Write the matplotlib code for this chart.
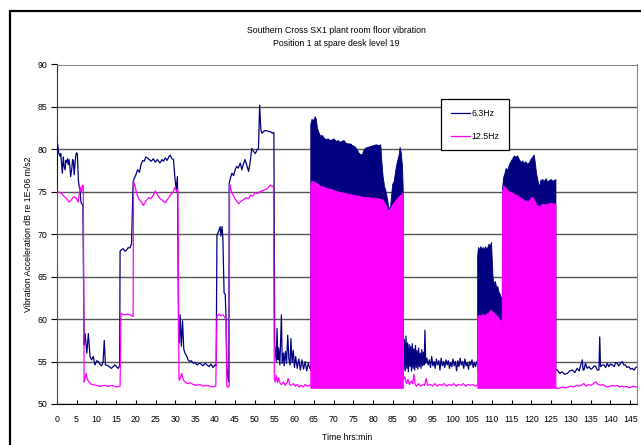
import numpy as np
import matplotlib as mpl; mpl.use("Agg")
import matplotlib.pyplot as plt
from matplotlib.lines import Line2D

plt.rcParams["font.family"] = ["Liberation Sans Narrow", "Liberation Sans", "DejaVu Sans"]
plt.rcParams["font.size"] = 6.3

NAVY, MAG = "#000080", "#FF00FF"

# ---- 6.3Hz, quiet stretches (time in hrs, level in dB) ----
t63_a = [0.0, 0.2, 0.5, 0.8, 1.0, 1.2, 1.4, 1.65, 1.85, 2.1, 2.3, 2.5, 2.7, 2.9, 3.1, 3.3, 3.5, 3.76,
         4.0, 4.2, 4.4, 4.6, 4.8, 5.0, 5.2, 5.45, 5.7, 5.9, 6.1, 6.3, 6.6, 6.9, 7.14, 7.6, 7.98, 8.4,
         8.8, 9.2, 9.65, 10.1, 10.5, 10.9, 11.3, 11.7, 12.0, 12.3, 13.0, 13.8, 14.7, 15.5, 15.9,
         16.0, 16.4, 16.8, 17.2, 17.6, 18.0, 18.5, 18.9, 19.3, 19.6, 20.0, 20.4, 20.9, 21.3, 21.7,
         22.1, 22.5, 22.9, 23.4, 23.9, 24.4, 24.9, 25.4, 26.1, 26.6, 27.0, 27.4, 27.9, 28.4, 28.7,
         29.1, 29.5, 29.9, 30.2, 30.5, 30.8, 31.0, 31.2, 31.5, 31.8, 32.1, 32.4, 32.8, 33.2, 33.6,
         34.0, 34.5, 35.0, 35.5, 36.0, 36.5, 37.0, 37.5, 38.0, 38.5, 39.0, 39.5, 40.0, 40.3, 40.5,
         40.9, 41.3, 41.5, 41.8, 42.0, 42.3, 42.6, 42.8, 43.0, 43.3, 43.5, 43.6, 43.9, 44.3, 44.7,
         45.1, 45.5, 45.9, 46.4, 46.8, 47.2, 47.6, 48.0, 48.5, 48.9, 49.3, 49.7, 50.2, 50.6, 51.0,
         51.3, 51.6, 51.9, 52.5, 53.1, 53.5, 54.0, 54.5, 54.9, 55.1, 55.5, 55.7, 55.9, 56.1, 56.4,
         56.8, 57.0, 57.3, 57.5, 57.8, 58.1, 58.4, 58.7, 59.0, 59.2, 59.5, 59.8, 60.1, 60.4, 60.8,
         61.2, 61.6, 62.0, 62.4, 62.8, 63.2, 63.6, 64.0]
v63_a = [75.0, 80.6, 79.6, 79.2, 79.5, 78.3, 77.2, 79.1, 78.0, 77.6, 78.7, 78.5, 78.9, 78.2, 78.8, 78.0, 76.8, 77.6,
         78.8, 78.6, 77.0, 78.3, 79.3, 79.6, 79.4, 76.4, 75.5, 75.0, 73.8, 73.6, 73.4, 57.0, 58.3, 56.0, 58.3, 55.6,
         55.2, 55.6, 54.6, 55.1, 55.0, 54.7, 54.5, 54.9, 57.5, 54.6, 54.5, 54.2, 54.6, 54.2, 54.5,
         68.0, 68.2, 68.3, 68.0, 68.1, 68.4, 68.4, 68.9, 76.2, 76.6, 77.0, 77.6, 77.3, 78.2, 78.7,
         78.6, 79.1, 79.0, 78.8, 78.6, 78.9, 78.5, 78.8, 78.4, 78.8, 78.6, 79.0, 78.7, 79.2, 79.3,
         78.9, 78.8, 76.5, 75.3, 76.8, 58.5, 57.2, 60.5, 56.8, 59.8, 56.5, 56.0, 55.7, 55.2, 55.0,
         55.1, 54.8, 54.9, 54.6, 54.8, 54.7, 54.5, 54.8, 54.6, 54.4, 54.7, 54.3, 54.6, 54.5, 69.9,
         70.3, 70.9, 69.8, 70.9, 69.5, 63.1, 62.9, 60.0, 54.5, 53.0, 52.6, 76.0, 76.6, 77.2, 76.9,
         77.6, 78.0, 77.8, 78.4, 77.6, 78.3, 78.8, 78.2, 77.4, 78.5, 80.1, 79.8, 79.5, 79.9, 80.1,
         85.2, 82.3, 81.9, 82.2, 82.2, 82.1, 82.1, 81.9, 82.0, 57.0, 55.0, 58.9, 55.2, 56.6, 54.6,
         60.5, 54.8, 56.0, 54.5, 56.2, 54.8, 58.1, 55.2, 54.6, 57.7, 54.9, 56.3, 54.3, 55.6, 54.2,
         55.3, 54.0, 55.2, 54.1, 55.0, 53.9, 54.8, 54.2]

t63_b = [87.5, 87.7, 87.9, 88.1, 88.3, 88.5, 88.7, 88.9, 89.1, 89.3, 89.5, 89.7, 89.9, 90.1, 90.3,
         90.5, 90.7, 90.9, 91.1, 91.3, 91.5, 91.7, 91.9, 92.1, 92.3, 92.5, 92.7, 92.9, 93.1, 93.3,
         93.6, 93.9, 94.2, 94.5, 94.8, 95.1, 95.4, 95.7, 96.0, 96.3, 96.6, 96.9, 97.2, 97.5, 97.8,
         98.1, 98.4, 98.7, 99.0, 99.3, 99.6, 99.9, 100.2, 100.5, 100.8, 101.1, 101.4, 101.7, 102.0,
         102.3, 102.6, 102.9, 103.2, 103.5, 103.8, 104.1, 104.4, 104.7, 105.0, 105.3, 105.6, 105.9, 106.2]
v63_b = [58.2, 54.0, 57.6, 53.9, 58.0, 54.2, 57.2, 53.8, 57.0, 54.4, 56.8, 53.9, 57.1, 54.2, 56.5,
         54.0, 56.9, 54.3, 56.3, 54.1, 56.6, 54.4, 56.0, 54.2, 56.4, 54.5, 56.1, 54.6, 58.7, 54.8,
         55.4, 54.6, 55.2, 54.3, 55.6, 54.5, 55.0, 54.2, 55.3, 54.6, 55.1, 54.0, 55.4, 54.5, 55.0,
         54.3, 55.2, 54.6, 55.1, 54.2, 54.9, 54.4, 55.3, 54.5, 55.0, 53.9, 55.1, 54.4, 55.4,
         54.6, 55.0, 54.2, 55.3, 54.5, 54.9, 54.1, 55.0, 54.6, 55.2, 54.3, 54.9, 54.4, 55.0]

t63_c = [126.1, 126.6, 127.2, 127.8, 128.4, 129.1, 129.7, 130.4, 131.0, 131.6, 132.1, 132.5, 132.9,
         133.1, 133.3, 133.7, 134.1, 134.6, 135.0, 135.4, 135.9, 136.3, 136.7, 137.1, 137.3, 137.5,
         138.0, 138.4, 138.8, 139.2, 139.6, 140.0, 140.5, 141.0, 141.3, 141.7, 142.1, 142.6, 143.0,
         143.4, 143.8, 144.2, 144.7, 145.1, 145.5, 146.0, 146.4, 146.8]
v63_c = [54.0, 54.0, 53.6, 53.8, 53.5, 53.6, 53.9, 54.0, 53.7, 54.2, 53.9, 54.6, 55.2,
         54.0, 54.0, 54.8, 54.2, 54.4, 54.1, 54.2, 54.5, 54.4, 54.0, 54.0, 57.9, 54.4,
         54.6, 54.6, 54.3, 54.8, 54.4, 54.7, 54.6, 54.4, 54.9, 54.8, 54.5, 54.8, 55.0,
         54.6, 54.6, 54.3, 54.4, 54.1, 54.2, 54.0, 54.3, 54.4]

# ---- 6.3Hz, rapidly cycling stretches: upper envelope ----
t63_d1 = [64.1, 64.4, 64.8, 65.2, 65.5, 65.8, 66.2, 66.6, 67.0, 67.5, 68.0, 68.5, 69.0, 69.6, 70.0,
          70.5, 71.0, 71.5, 72.0, 72.5, 73.0, 73.5, 74.2, 74.7, 75.2, 75.9, 76.3, 76.8, 77.2, 77.6,
          78.0, 78.6, 79.3, 80.0, 80.7, 81.3, 81.8, 82.1, 82.4, 82.8, 83.1, 83.5, 83.9, 84.3, 84.8,
          85.2, 85.6, 86.0, 86.4, 86.7, 87.0, 87.3, 87.5]
v63_d1 = [83.0, 83.6, 83.4, 83.9, 83.6, 82.5, 82.0, 81.6, 81.7, 81.4, 81.2, 81.3, 81.1, 81.2, 81.3,
          81.0, 81.1, 80.9, 81.0, 81.1, 80.8, 80.7, 80.7, 80.5, 80.4, 80.0, 79.6, 79.4, 79.5, 80.0,
          80.2, 80.3, 80.4, 80.5, 80.6, 80.5, 80.6, 78.5, 76.8, 75.6, 75.2, 74.2, 73.0, 73.4, 75.9,
          76.3, 77.6, 78.6, 79.3, 80.3, 79.6, 78.0, 75.0]
t63_d2 = [106.3, 106.5, 106.8, 107.1, 107.4, 107.7, 108.0, 108.3, 108.6, 108.9, 109.2, 109.5, 109.8,
          110.0, 110.2, 110.5, 110.8, 111.1, 111.4, 111.7, 112.0, 112.3, 112.55, 112.6, 112.9, 113.2,
          113.5, 113.9, 114.3, 114.7, 115.1, 115.6, 116.0, 116.4, 116.8, 117.3, 117.7, 118.1, 118.5,
          118.9, 119.4, 119.8, 120.2, 120.6, 120.9, 121.2, 121.5, 121.9, 122.3, 122.8, 123.2, 123.6,
          124.0, 124.5, 124.9, 125.3, 125.7, 126.1]
v63_d2 = [67.5, 68.5, 68.2, 68.6, 68.3, 68.5, 68.2, 68.6, 68.3, 68.5, 68.9, 68.6, 69.1,
          67.0, 64.9, 64.2, 64.5, 63.8, 63.9, 63.2, 63.0, 62.6, 62.5, 75.5, 76.8, 77.2,
          77.8, 77.6, 78.2, 78.6, 78.9, 79.3, 79.1, 79.3, 78.9, 78.5, 78.7, 78.4, 78.6,
          78.3, 78.5, 78.9, 79.1, 79.4, 78.4, 77.2, 76.5, 75.6, 76.4, 76.5, 76.3, 76.6,
          76.2, 76.4, 76.5, 76.3, 76.4, 76.5]
floor63 = 54.0

# ---- 12.5Hz, quiet stretches ----
t125_a = [0.0, 0.1, 0.4, 0.8, 1.2, 1.6, 2.0, 2.5, 3.1, 3.6, 4.2, 4.8, 5.2, 5.45, 5.87, 6.2, 6.5, 6.7,
          6.9, 7.1, 7.4, 7.7, 8.0, 8.5, 9.0, 10.0, 11.0, 12.0, 13.0, 14.0, 15.0, 16.0, 16.25, 17.0,
          18.0, 19.0, 19.3, 19.4, 19.8, 20.2, 20.7, 21.2, 21.9, 22.5, 23.2, 23.8, 24.4, 24.9, 25.5,
          26.1, 26.7, 27.4, 28.0, 28.7, 29.3, 29.9, 30.3, 30.6, 30.9, 31.2, 31.6, 32.0, 32.5, 33.1,
          33.7, 34.5, 35.4, 36.2, 37.1, 38.0, 38.8, 39.5, 40.2, 40.5, 41.0, 41.5, 42.0, 42.5, 42.8,
          43.0, 43.3, 43.6, 43.7, 44.0, 44.3, 44.8, 45.3, 46.0, 46.6, 47.3, 47.9, 48.5, 49.0, 49.6,
          50.2, 50.7, 51.3, 51.8, 52.4, 53.0, 53.5, 54.0, 54.5, 54.8, 55.0, 55.2, 55.5, 55.8, 56.1,
          56.5, 56.8, 57.3, 57.8, 58.2, 58.5, 58.9, 59.3, 59.8, 60.3, 60.8, 61.3, 61.8, 62.3, 62.8,
          63.3, 63.8, 64.1]
v125_a = [50.2, 75.0, 75.0, 74.9, 74.8, 74.6, 74.4, 74.2, 73.8, 74.0, 74.4, 74.3, 74.0, 73.8, 75.6, 74.9, 75.8, 75.7,
          52.6, 53.0, 53.6, 52.9, 52.7, 52.4, 52.3, 52.2, 52.1, 52.2, 52.1, 52.2, 52.0, 52.1, 60.7, 60.5,
          60.6, 60.4, 60.3, 76.3, 75.6, 74.8, 74.2, 73.9, 73.4, 73.9, 74.3, 74.2, 74.6, 75.1, 74.6,
          74.2, 74.0, 73.7, 74.1, 74.6, 74.9, 75.5, 75.0, 75.3, 52.8, 53.0, 53.6, 52.8, 52.6, 52.4,
          52.5, 52.3, 52.2, 52.3, 52.1, 52.2, 52.1, 52.0, 52.1, 60.3, 60.6, 60.4, 60.5, 60.2, 59.9,
          52.0, 52.0, 52.1, 75.9, 75.3, 74.9, 74.4, 74.0, 73.6, 73.9, 74.1, 74.3, 74.2, 74.6, 74.5,
          74.9, 74.8, 75.0, 75.1, 75.2, 75.3, 75.5, 75.8, 75.6, 75.7, 53.0, 52.6, 53.4, 52.5, 53.1,
          52.4, 52.3, 52.6, 52.2, 52.5, 53.0, 52.3, 52.2, 52.4, 52.1, 52.3, 52.0, 52.2, 52.0, 52.3,
          52.1, 52.2, 52.2]

t125_b = [87.5, 87.6, 88.0, 88.4, 88.8, 89.2, 89.6, 90.0, 90.3, 90.6, 91.0, 91.5, 92.0, 92.5, 93.0,
          93.4, 93.8, 94.5, 95.0, 95.6, 96.2, 96.8, 97.4, 98.0, 98.6, 99.2, 99.8, 100.4, 101.0,
          101.6, 102.2, 102.8, 103.4, 104.0, 104.6, 105.2, 105.8, 106.3]
v125_b = [74.8, 52.8, 53.2, 52.4, 52.9, 52.3, 52.7, 52.4, 53.5, 52.3, 52.1, 52.4, 52.1, 52.3, 52.2,
          53.0, 52.2, 52.3, 52.1, 52.4, 52.1, 52.3, 52.2, 52.4, 52.1, 52.3, 52.2, 52.4, 52.1,
          52.3, 52.2, 52.4, 52.1, 52.3, 52.2, 52.3, 52.1, 52.2]

t125_c = [126.1, 126.6, 127.3, 128.0, 128.7, 129.4, 130.0, 130.7, 131.4, 132.0, 132.6, 133.3, 133.9,
          134.5, 135.1, 135.7, 136.3, 136.9, 137.5, 138.1, 138.7, 139.3, 139.9, 140.5, 141.1, 141.7,
          142.3, 142.9, 143.5, 144.1, 144.7, 145.3, 145.9, 146.5, 146.8]
v125_c = [52.0, 51.8, 51.9, 52.0, 51.9, 52.0, 52.1, 52.0, 52.2, 52.1, 52.2, 52.4, 52.1,
          52.3, 52.2, 52.4, 52.6, 52.3, 52.2, 52.3, 52.1, 52.0, 52.1, 52.2, 52.1, 52.2,
          52.0, 52.1, 52.0, 52.1, 51.9, 52.0, 52.1, 52.0, 52.0]

# ---- 12.5Hz, rapidly cycling stretches: upper envelope ----
t125_d1 = [64.1, 64.4, 65.0, 65.8, 66.6, 67.5, 68.5, 69.6, 70.5, 71.5, 72.5, 73.5, 74.5, 75.5, 76.5,
           77.5, 78.5, 79.5, 80.5, 81.5, 82.3, 82.8, 83.3, 83.6, 84.0, 84.4, 84.8, 85.3, 85.8, 86.3,
           86.8, 87.3, 87.5]
v125_d1 = [75.8, 76.3, 76.2, 76.0, 75.7, 75.6, 75.4, 75.3, 75.1, 75.0, 74.9, 74.8, 74.7, 74.6, 74.5,
           74.4, 74.4, 74.3, 74.3, 74.2, 74.1, 73.8, 73.3, 72.9, 72.9, 73.2, 73.5, 73.8, 74.1, 74.4,
           74.6, 74.8, 74.8]
t125_d2 = [106.3, 106.7, 107.2, 107.7, 108.2, 108.7, 109.2, 109.7, 110.1, 110.6, 111.1, 111.6, 112.0,
           112.5, 112.6, 112.9, 113.4, 114.0, 114.6, 115.2, 115.8, 116.4, 117.0, 117.6, 118.2, 118.8,
           119.4, 119.8, 120.3, 120.8, 121.3, 121.8, 122.3, 122.8, 123.4, 124.0, 124.6, 125.2, 125.7, 126.1]
v125_d2 = [60.3, 60.5, 60.4, 60.6, 60.5, 60.7, 60.8, 61.1, 60.9, 60.7, 60.5, 60.2, 59.9,
           59.7, 75.0, 75.8, 75.5, 75.2, 75.0, 74.9, 74.7, 74.6, 74.4, 74.2, 74.0, 73.9,
           74.0, 74.3, 74.4, 74.0, 73.5, 73.3, 73.4, 73.6, 73.5, 73.6, 73.7, 73.7, 73.6, 73.7]
floor125 = 51.9

fig = plt.figure(figsize=(6.41, 4.45), dpi=100)
ax = fig.add_axes([56.8/641, 41/445, 580.5/641, 339.5/445])

# outer chart frame (left + top edges visible)
fig.add_artist(Line2D([9.5/641, 9.5/641, 1.0], [0, 1 - 10.5/445, 1 - 10.5/445], color="black", lw=1.6,
                      solid_joinstyle="miter", transform=fig.transFigure))

for t, v in [(t63_a, v63_a), (t63_b, v63_b), (t63_c, v63_c)]:
    ax.plot(t, v, color=NAVY, lw=0.9, zorder=3)
for t, v in [(t63_d1, v63_d1), (t63_d2, v63_d2)]:
    ax.fill_between(t, floor63, v, color=NAVY, lw=0.6, zorder=3)
for t, v in [(t125_d1, v125_d1), (t125_d2, v125_d2)]:
    ax.fill_between(t, floor125, v, color=MAG, lw=0.6, zorder=4)
for t, v in [(t125_a, v125_a), (t125_b, v125_b), (t125_c, v125_c)]:
    ax.plot(t, v, color=MAG, lw=0.9, zorder=4)

ax.set_xlim(0, 146.8)
ax.set_ylim(50, 90)
ax.set_xticks(np.arange(0, 146, 5))
ax.set_yticks(np.arange(50, 91, 5))
ax.tick_params(axis="x", direction="in", length=3, width=0.8, pad=8)
ax.tick_params(axis="y", direction="out", length=4, width=0.8, pad=3)
ax.grid(axis="y", color="#555555", lw=1.0, zorder=1)
for s in ["top", "right"]:
    ax.spines[s].set_color("#888888")
ax.spines["left"].set_color("#333333")

ax.set_ylabel("Vibration Acceleration dB re 1E-06 m/s2")
ax.yaxis.set_label_coords(-24/580.5, 0.5)
ax.set_xlabel("Time hrs:min")
ax.xaxis.set_label_coords(0.5, -29/339.5)

fig.text(336/641, 1 - 37/445, "Southern Cross SX1 plant room floor vibration\nPosition 1 at spare desk level 19",
         ha="center", va="center", linespacing=1.45)

leg = ax.legend(handles=[Line2D([], [], color=NAVY, lw=0.9), Line2D([], [], color=MAG, lw=0.9)],
                labels=["6.3Hz", "12.5Hz"], loc="upper left",
                bbox_to_anchor=(441/641, 1 - 99/445), bbox_transform=fig.transFigure,
                fancybox=False, framealpha=1, edgecolor="black",
                handlelength=2.2, handletextpad=0.15, labelspacing=1.6, borderpad=1.1, borderaxespad=0)
leg.get_frame().set_linewidth(0.9)
leg.set_zorder(6)

fig.savefig("out.png", dpi=100)
